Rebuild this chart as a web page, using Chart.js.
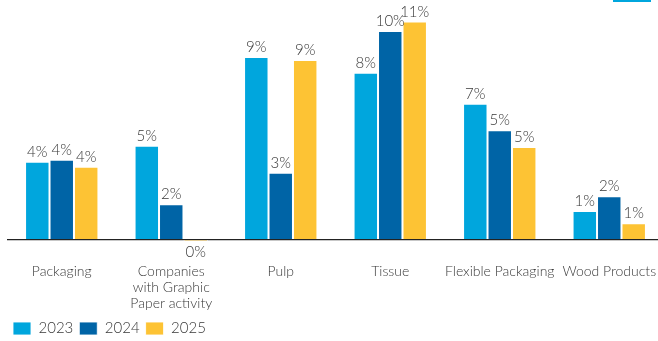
<!DOCTYPE html>
<html>
<head>
<meta charset="utf-8">
<script src="https://cdn.jsdelivr.net/npm/chart.js@4"></script>
<style>
  html, body { margin: 0; padding: 0; background: #fff; overflow: hidden; width: 658px; height: 341px; }
  #wrap { position: absolute; left: 0; top: 0; width: 664px; height: 346px; }
  #deco { position: absolute; left: 613px; top: 0; width: 38px; height: 2px; background: #00a6dd; }
</style>
</head>
<body>
<div id="wrap"><canvas id="c"></canvas></div>
<div id="deco"></div>
<script>
const categories = ['Packaging', ['Companies', 'with Graphic', 'Paper activity'], 'Pulp', 'Tissue', 'Flexible Packaging', 'Wood Products'];
const seriesNames = ['2023', '2024', '2025'];
const values2023 = [3.9, 4.7, 9.15, 8.35, 6.8, 1.43];
const values2024 = [4.0, 1.77, 3.35, 10.45, 5.48, 2.17];
const values2025 = [3.65, -0.1, 9.0, 10.92, 4.63, 0.82];
const colors = ['#00a6dd', '#0064a6', '#fdc334'];

const FONT = 'Lato, "Open Sans", sans-serif';

const valueLabels = {
  id: 'valueLabels',
  afterDatasetsDraw(chart) {
    const ctx = chart.ctx;
    ctx.save();
    ctx.font = '300 15px ' + FONT;
    ctx.fillStyle = '#383838';
    ctx.textAlign = 'center';
    chart.data.datasets.forEach((ds, di) => {
      const meta = chart.getDatasetMeta(di);
      meta.data.forEach((bar, i) => {
        const v = ds.data[i];
        const txt = Math.round(v) + '%';
        if (v >= 0) {
          ctx.textBaseline = 'alphabetic';
          ctx.fillText(txt, bar.x, bar.y - 5);
        } else {
          ctx.textBaseline = 'top';
          ctx.fillText(txt, bar.x, bar.y + 3);
        }
      });
    });
    ctx.restore();
  }
};

new Chart(document.getElementById('c'), {
  type: 'bar',
  data: {
    labels: categories,
    datasets: [
      { label: seriesNames[0], data: values2023, backgroundColor: colors[0] },
      { label: seriesNames[1], data: values2024, backgroundColor: colors[1] },
      { label: seriesNames[2], data: values2025, backgroundColor: colors[2] }
    ]
  },
  options: {
    responsive: true,
    maintainAspectRatio: false,
    animation: false,
    devicePixelRatio: 1,
    layout: { padding: { left: 7, right: 0, top: 0, bottom: 0 } },
    datasets: {
      bar: {
        barPercentage: 1,
        categoryPercentage: 0.67,
        borderWidth: 1,
        borderColor: 'rgba(255,255,255,0.85)'
      }
    },
    plugins: {
      legend: {
        position: 'bottom',
        align: 'start',
        labels: {
          boxWidth: 18,
          boxHeight: 13,
          padding: 6,
          color: '#383838',
          font: { family: FONT, size: 15, weight: '300' }
        }
      },
      tooltip: { enabled: false }
    },
    scales: {
      x: {
        grid: { display: false, drawTicks: false },
        border: { display: false },
        ticks: {
          color: '#383838',
          padding: 4,
          maxRotation: 0,
          autoSkip: false,
          font: { family: FONT, size: 14, weight: '300', lineHeight: 1.15 }
        },
        afterFit(scale) { scale.height = 55.5; }
      },
      y: {
        min: -1,
        max: 12,
        border: { display: false },
        grid: {
          drawTicks: false,
          lineWidth: 1.2,
          color: c => (c.tick && c.tick.value === 0) ? '#222' : 'rgba(0,0,0,0)'
        },
        ticks: { display: false, stepSize: 1 },
        afterFit(scale) { scale.width = 0; }
      }
    }
  },
  plugins: [valueLabels]
});
</script>
</body>
</html>
